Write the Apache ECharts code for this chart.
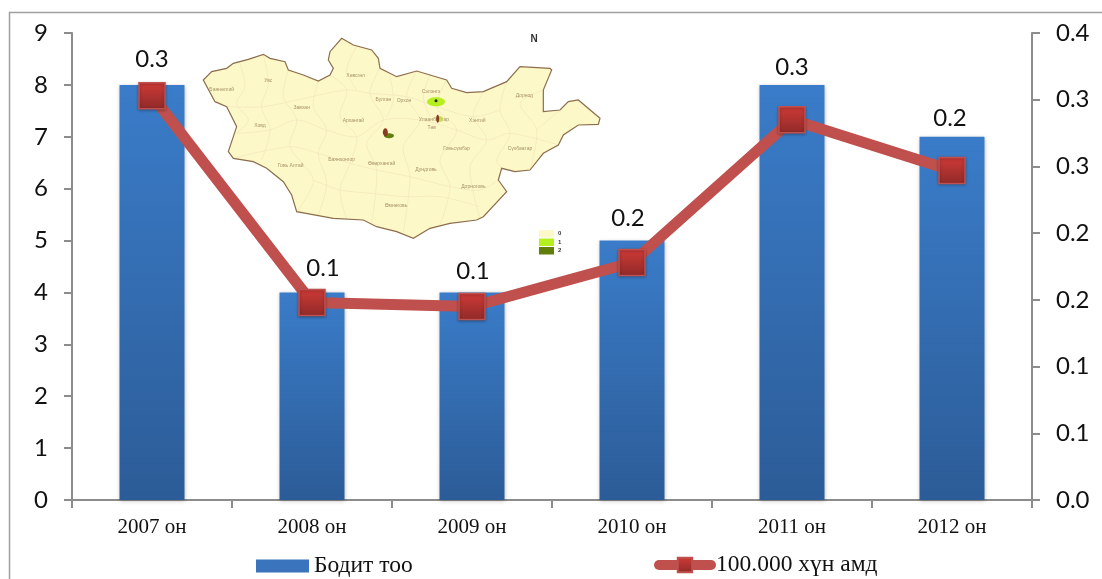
<!DOCTYPE html>
<html>
<head>
<meta charset="utf-8">
<style>
  html, body { margin: 0; padding: 0; background: #fff; }
  #chart { width: 1102px; height: 579px; }
</style>
<script src="https://cdn.jsdelivr.net/npm/echarts@6/dist/echarts.min.js"></script>
</head>
<body>
<div id="chart"></div>
<script>
// chart values
var years = ['2007 он', '2008 он', '2009 он', '2010 он', '2011 он', '2012 он'];
var actualCount = [8, 4, 4, 5, 8, 7];
var ratePer100k = [0.303, 0.148, 0.145, 0.178, 0.285, 0.247];
var rightTicks = ['0.0', '0.1', '0.1', '0.2', '0.2', '0.3', '0.3', '0.4'];
var barName = 'Бодит тоо';
var lineName = '100.000 хүн амд';
// rate labels were moved by hand in the original, so each has its own nudge
var labelGap = [11, 9, 10, 18, 27, 26];
var labelShift = [0, 11, 1, -4, 0, -2];

// inset map, traced in 3x crop pixels
var mapOutline = [[40,180],[65,155],[110,145],[130,130],[175,118],[220,103],[240,115],[285,125],[295,150],[340,165],[385,183],[420,165],[430,145],[415,120],[420,95],[455,55],[490,75],[545,90],[565,115],[570,145],[620,170],[680,153],[720,165],[770,180],[785,205],[830,218],[880,215],[950,185],[990,140],[1080,145],[1085,150],[1060,210],[1060,275],[1110,270],[1135,245],[1165,240],[1230,295],[1225,313],[1165,315],[1120,345],[1105,375],[1060,400],[1020,450],[975,455],[935,445],[925,480],[950,515],[880,590],[860,600],[780,610],[720,625],[670,655],[620,635],[560,620],[520,600],[430,595],[320,575],[305,525],[280,485],[230,445],[190,425],[130,415],[115,395],[130,350],[140,320],[110,260],[75,245]];
var mapBorders = [
  [[150,130],[165,200],[140,250],[175,300],[140,340]],
  [[220,105],[235,190],[215,260],[240,330],[215,420]],
  [[295,150],[280,230],[320,300],[300,380],[370,480],[320,575]],
  [[385,183],[370,260],[410,330],[385,400],[410,490],[385,585]],
  [[420,165],[470,210],[450,290],[500,350],[480,430],[450,510],[470,598]],
  [[570,145],[540,220],[580,300],[530,370],[560,450],[545,610]],
  [[680,153],[650,230],[690,300],[640,380],[660,470],[640,635]],
  [[770,180],[740,260],[800,330],[750,420],[780,500],[750,615]],
  [[880,215],[850,290],[890,360],[840,440],[870,595]],
  [[950,185],[930,270],[960,340],[920,420],[935,445]],
  [[1060,210],[990,250],[1040,330],[1020,450]],
  [[110,260],[220,260],[320,240],[470,210],[540,220],[650,230],[740,260],[850,290],[930,270]],
  [[140,340],[240,330],[320,300],[410,330],[500,350],[580,300],[690,300],[800,330],[890,360],[960,340],[1105,375]],
  [[130,415],[300,380],[385,400],[480,430],[560,450],[660,470],[780,500],[870,510],[925,480]],
  [[370,480],[450,510],[545,520],[640,530],[750,530],[870,560]],
  [[600,170],[610,240],[590,290]],
  [[720,165],[700,230],[720,290]],
  [[500,80],[470,150],[500,210]],
  [[1110,270],[1040,330]]
];
var mapNames = [
  ['Увс',235,181],['Баянөлгий',95,210],['Хөвсгөл',497,167],['Завхан',335,262],['Ховд',210,318],
  ['Булган',580,238],['Орхон',642,241],['Сэлэнгэ',723,215],['Дорнод',1003,228],['Архангай',490,302],
  ['Улаанбаатар',732,300],['Төв',725,322],['Хэнтий',862,302],['Сүхбаатар',990,386],['Говьсүмбэр',800,387],
  ['Говь Алтай',302,437],['Баянхонгор',455,418],['Өвөрхангай',575,430],['Дундговь',708,448],['Дорноговь',850,500],['Өмнөговь',618,557]
];
var mapLegend = ['0', '1', '2'];
var mapLegendColors = ['#fdf8c8', '#b5f01e', '#5f7f0a'];

function mx(x) { return 190 + x / 3; }
function my(y) { return 20 + y / 3; }
function mp(list) { return list.map(function (p) { return [mx(p[0]), my(p[1])]; }); }

var mapGraphics = [];
// outer frame of the chart
mapGraphics.push({ type: 'rect', shape: { x: 9.5, y: 12.5, width: 1200, height: 800 }, style: { fill: 'none', stroke: '#a0a0a0', lineWidth: 1.5 } });
mapGraphics.push({ type: 'polygon', shape: { points: mp(mapOutline) }, style: { fill: '#fdf8c8', stroke: 'none' } });
mapBorders.forEach(function (line) {
  mapGraphics.push({ type: 'polyline', shape: { points: mp(line), smooth: 0.3 }, style: { fill: 'none', stroke: '#f0e2bc', lineWidth: 0.6 } });
});
mapGraphics.push({ type: 'polygon', shape: { points: mp(mapOutline) }, style: { fill: 'none', stroke: '#8d6e4c', lineWidth: 1.2 } });
mapNames.forEach(function (n) {
  mapGraphics.push({ type: 'text', x: mx(n[1]), y: my(n[2]), style: { text: n[0], fill: '#a8946a', font: '5px "Liberation Sans"', align: 'center', verticalAlign: 'middle' } });
});
// affected districts on the map
mapGraphics.push({ type: 'ellipse', shape: { cx: mx(738), cy: my(245), rx: 9, ry: 4.5 }, style: { fill: '#b5f01e' } });
mapGraphics.push({ type: 'circle', shape: { cx: mx(738), cy: my(242), r: 1.5 }, style: { fill: '#222' } });
mapGraphics.push({ type: 'ellipse', shape: { cx: mx(748), cy: my(297), rx: 4, ry: 3 }, style: { fill: '#c4dc5a' } });
mapGraphics.push({ type: 'ellipse', shape: { cx: mx(743), cy: my(296), rx: 1.5, ry: 4 }, style: { fill: '#8a3a20' } });
mapGraphics.push({ type: 'ellipse', shape: { cx: mx(597), cy: my(347), rx: 5, ry: 2.5 }, style: { fill: '#5f7f0a' } });
mapGraphics.push({ type: 'ellipse', shape: { cx: mx(586), cy: my(337), rx: 2.5, ry: 4 }, style: { fill: '#8a3a20' } });
// N mark and map legend
mapGraphics.push({ type: 'text', x: 534, y: 39, style: { text: 'N', fill: '#333', font: 'bold 10px "Liberation Sans"', align: 'center', verticalAlign: 'middle' } });
mapLegend.forEach(function (t, i) {
  mapGraphics.push({ type: 'rect', shape: { x: 539, y: 230 + i * 8.5, width: 15, height: 7.5 }, style: { fill: mapLegendColors[i] } });
  mapGraphics.push({ type: 'text', x: 558, y: 233.5 + i * 8.5, style: { text: t, fill: '#333', font: 'bold 6px "Liberation Sans"', verticalAlign: 'middle' } });
});

var axisGray = { color: '#8c8c8c', width: 2 };
var yLabel = { color: '#111', fontFamily: 'Lato', fontSize: 24 };
var legendText = { fontFamily: 'Liberation Serif', fontSize: 23.5, color: '#111' };

var chart = echarts.init(document.getElementById('chart'));
chart.setOption({
  animation: false,
  backgroundColor: '#fff',
  graphic: mapGraphics,
  grid: { left: 72, right: 70, top: 33, bottom: 79 },
  legend: [
    {
      left: 256,
      top: 554,
      padding: 0,
      itemWidth: 53,
      itemHeight: 13,
      itemGap: 0,
      textStyle: Object.assign({ padding: [10, 0, 0, 0] }, legendText),
      data: [{ name: barName, icon: 'rect', itemStyle: { color: '#3a74bc' } }]
    },
    {
      left: 654,
      top: 553,
      padding: 0,
      itemWidth: 52,
      itemHeight: 18,
      itemGap: 0,
      textStyle: Object.assign({ padding: [9, 0, 0, 0] }, legendText),
      data: [{ name: lineName, lineStyle: { width: 10, cap: 'round' } }]
    }
  ],
  xAxis: {
    type: 'category',
    data: years,
    axisLine: { lineStyle: axisGray },
    axisTick: { show: true, length: 8, alignWithLabel: false, lineStyle: axisGray },
    axisLabel: { color: '#111', fontFamily: 'Liberation Serif', fontSize: 21, margin: 17 }
  },
  yAxis: [
    {
      type: 'value', min: 0, max: 9, interval: 1,
      axisLine: { show: true, lineStyle: axisGray },
      axisTick: { show: true, length: 8, lineStyle: axisGray },
      splitLine: { show: false },
      axisLabel: Object.assign({ margin: 24 }, yLabel)
    },
    {
      type: 'value', min: 0, max: 0.35, interval: 0.05,
      axisLine: { show: true, lineStyle: axisGray },
      axisTick: { show: true, length: 8, lineStyle: axisGray },
      splitLine: { show: false },
      axisLabel: Object.assign({
        margin: 24,
        formatter: function (v) { return rightTicks[Math.round(v / 0.05)]; }
      }, yLabel)
    }
  ],
  series: [
    {
      name: barName,
      type: 'bar',
      yAxisIndex: 0,
      barWidth: 65,
      data: actualCount,
      itemStyle: {
        color: new echarts.graphic.LinearGradient(0, 0, 0, 1, [
          { offset: 0, color: '#3a7cc9' },
          { offset: 1, color: '#2c5c97' }
        ]),
        shadowColor: 'rgba(0,0,0,0.25)',
        shadowBlur: 4,
        shadowOffsetY: 1
      }
    },
    {
      name: lineName,
      type: 'line',
      yAxisIndex: 1,
      symbol: 'rect',
      symbolSize: 26,
      lineStyle: { color: '#c0504d', width: 11 },
      itemStyle: {
        color: new echarts.graphic.LinearGradient(0, 0, 0, 1, [
          { offset: 0, color: '#cf3a37' },
          { offset: 1, color: '#8f2a28' }
        ]),
        borderColor: '#c0504d',
        borderWidth: 1.5,
        shadowColor: 'rgba(0,0,0,0.3)',
        shadowBlur: 3,
        shadowOffsetY: 1
      },
      data: ratePer100k.map(function (v, i) {
        return {
          value: v,
          label: {
            show: true,
            position: 'top',
            distance: labelGap[i],
            offset: [labelShift[i], 0],
            formatter: function (p) { return p.value.toFixed(1); },
            color: '#111',
            fontFamily: 'Lato',
            fontSize: 24
          }
        };
      }),
      z: 5
    }
  ]
});
</script>
</body>
</html>
